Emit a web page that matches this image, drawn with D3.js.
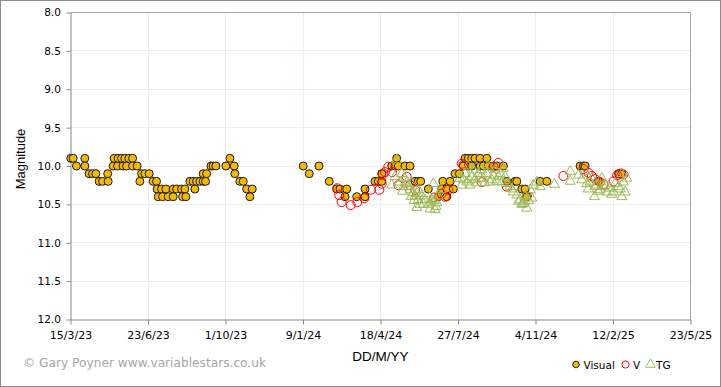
<!DOCTYPE html>
<html>
<head>
<meta charset="utf-8">
<script src="https://cdn.jsdelivr.net/npm/d3@7"></script>
<style>
  body { margin: 0; background: #fff; }
  svg { display: block; }
</style>
</head>
<body>
<svg width="721" height="387"></svg>
<script>
// observations: [JD - 2460000, magnitude]
var JD_BASE = 2460000;

var visualObs = [
  [18.9,9.9],[21.9,9.9],[26.2,10.0],[37.0,9.9],[37.0,10.0],[42.5,10.1],[46.9,10.1],[51.2,10.1],
  [55.4,10.2],[59.8,10.2],[66.5,10.1],[67.1,10.2],[73.5,10.0],[74.8,9.9],[79.2,10.0],[80.0,9.9],
  [84.4,9.9],[86.4,10.0],[88.6,9.9],[90.8,10.0],[93.8,9.9],[98.6,9.9],[98.6,10.0],[104.5,10.0],
  [108.0,10.2],[110.2,10.1],[114.4,10.1],[120.0,10.1],[125.2,10.2],[129.5,10.2],[130.3,10.3],
  [131.6,10.4],[136.0,10.3],[137.3,10.4],[141.5,10.3],[144.5,10.4],[151.0,10.3],[151.0,10.4],
  [155.4,10.3],[161.8,10.3],[163.1,10.4],[166.1,10.3],[167.4,10.4],[172.5,10.2],[176.8,10.2],
  [179.0,10.3],[181.2,10.2],[185.5,10.2],[189.7,10.2],[189.7,10.1],[192.8,10.2],[194.1,10.1],
  [199.7,10.0],[202.6,10.0],[206.1,10.0],[219.0,10.0],[224.2,9.9],[229.7,10.0],[230.6,10.1],
  [237.1,10.2],[241.4,10.2],[245.8,10.3],[250.0,10.4],[253.0,10.3],
  [318.8,10.0],[326.6,10.1],[339.1,10.0],[352.4,10.2],[362.0,10.3],[366.2,10.3],[372.7,10.4],
  [374.9,10.3],[387.8,10.4],[398.5,10.3],[398.5,10.4],[411.4,10.2],[415.7,10.2],[420.1,10.2],
  [420.1,10.1],[433.0,10.0],[437.2,10.0],[439.4,9.9],[441.5,10.0],[450.1,10.0],[456.6,10.0],
  [463.1,10.2],[467.3,10.2],[470.4,10.2],[480.2,10.3],[493.2,10.4],[497.5,10.3],[498.8,10.2],
  [504.0,10.3],[504.0,10.4],[508.3,10.2],[512.5,10.3],[514.7,10.1],[520.3,10.1],[525.4,10.0],
  [527.6,9.9],[531.9,9.9],[531.9,10.0],[536.3,9.9],[536.3,10.0],[540.5,9.9],[547.0,9.9],
  [547.0,10.0],[551.3,10.0],[555.7,9.9],[557.7,10.0],[564.2,10.0],[568.6,10.0],[577.1,10.0],
  [581.5,10.2],[592.2,10.2],[594.4,10.2],[600.8,10.3],[605.1,10.3],[607.4,10.4],[624.5,10.2],
  [633.1,10.2],[676.1,10.0],[680.4,10.0],[682.6,10.0],[699.7,10.2],[725.6,10.1],[730.0,10.1]
];

var vObs = [
  [362.7,10.29],[365.3,10.38],[368.4,10.47],[380.0,10.51],[388.6,10.47],[397.6,10.42],
  [406.2,10.31],[417.0,10.31],[420.1,10.23],[421.4,10.11],[424.3,10.08],[428.6,10.01],
  [433.4,10.08],[441.5,10.25],[452.3,10.14],[456.6,10.25],[463.1,10.31],[487.6,10.41],
  [497.5,10.36],[501.8,10.40],[506.1,10.31],[523.4,9.97],[525.4,9.99],[549.2,10.21],
  [564.2,10.01],[570.6,9.96],[581.5,10.27],[607.3,10.39],[654.5,10.13],[680.4,10.04],
  [686.8,10.09],[691.2,10.13],[695.5,10.17],[701.9,10.21],[706.2,10.24],[719.1,10.20],
  [723.9,10.12],[727.8,10.10],[732.0,10.11]
];

var tgObs = [
  [433.0,10.25],[437.2,10.14],[439.4,9.92],[443.7,10.21],[445.9,10.10],[448.0,10.27],
  [450.1,10.16],[454.4,10.27],[456.6,10.31],[458.8,10.23],[460.5,10.35],[463.1,10.39],
  [467.3,10.31],[467.3,10.44],[469.5,10.50],[471.7,10.39],[476.0,10.44],[465.3,10.54],
  [480.2,10.50],[482.4,10.56],[484.6,10.44],[486.7,10.23],[488.9,10.57],[491.1,10.48],
  [493.1,10.39],[496.6,10.31],[447.0,10.33],[452.0,10.22],[458.0,10.40],[462.0,10.45],
  [466.0,10.36],[474.0,10.50],[478.0,10.36],[483.5,10.48],[487.8,10.45],[490.0,10.53],
  [521.2,10.16],[523.4,10.25],[527.6,10.10],[529.8,10.21],[531.5,10.00],[534.1,10.25],
  [536.3,10.14],[538.3,10.05],[540.5,10.18],[544.8,10.10],[549.2,10.05],[551.3,10.16],
  [555.6,10.10],[557.3,10.00],[559.9,10.21],[564.2,10.12],[566.4,10.05],[570.6,10.14],
  [575.0,10.21],[576.7,10.03],[579.3,10.14],[581.5,10.23],[585.7,10.27],[590.0,10.34],
  [594.4,10.38],[598.6,10.44],[602.9,10.49],[607.3,10.55],[605.1,10.40],[611.6,10.31],
  [613.7,10.42],[615.8,10.25],[620.2,10.21],[624.5,10.27],[525.5,10.18],[533.0,10.18],
  [542.5,10.22],[547.0,10.16],[553.0,10.22],[562.0,10.18],[568.5,10.20],[573.0,10.10],
  [588.0,10.30],[596.5,10.46],[600.8,10.50],[604.0,10.47],[609.5,10.45],
  [642.9,10.24],[663.2,10.07],[663.2,10.20],[673.9,10.12],[678.3,10.18],[682.6,10.07],
  [684.8,10.23],[689.0,10.21],[691.2,10.16],[694.6,10.40],[695.5,10.27],[697.7,10.25],
  [701.9,10.31],[704.1,10.16],[706.2,10.27],[710.6,10.34],[714.8,10.29],[719.1,10.34],
  [721.3,10.23],[725.6,10.27],[730.0,10.40],[732.0,10.21],[734.2,10.34],[730.0,10.10],
  [736.4,10.16],[686.5,10.30],[699.8,10.33],[708.4,10.25],[716.9,10.37],[728.0,10.30]
];

var xTicks = ["2023-03-15","2023-06-23","2023-10-01","2024-01-09","2024-04-18",
              "2024-07-27","2024-11-04","2025-02-12","2025-05-23"];
var yTicks = [8.0, 8.5, 9.0, 9.5, 10.0, 10.5, 11.0, 11.5, 12.0];

function jdToDate(j) { return new Date((j + JD_BASE - 2440587.5) * 864e5); }
var parse = d3.utcParse("%Y-%m-%d");
var fmt = d3.utcFormat("%-d/%-m/%y");
var xDates = xTicks.map(parse);

var svg = d3.select("svg");
var plotL = 70.5, plotR = 690.5, plotT = 12.5, plotB = 319.5;

var x = d3.scaleUtc().domain([xDates[0], xDates[xDates.length - 1]]).range([plotL, plotR]);
var y = d3.scaleLinear().domain([8, 12]).range([plotT, plotB]);

svg.append("rect").attr("x", 0.5).attr("y", 0.5).attr("width", 720).attr("height", 386)
  .attr("fill", "#fff").attr("stroke", "#8c8c8c");

// grid
var grid = svg.append("g").attr("stroke", "#f9eaea").attr("stroke-width", 1);
grid.selectAll(".gx").data(xDates.slice(1, -1)).enter().append("line")
  .attr("x1", function(d) { return Math.round(x(d) - 0.5) + 0.5; })
  .attr("x2", function(d) { return Math.round(x(d) - 0.5) + 0.5; })
  .attr("y1", plotT).attr("y2", plotB);
grid.selectAll(".gy").data(yTicks.slice(1, -1)).enter().append("line")
  .attr("y1", function(d) { return Math.round(y(d) - 0.5) + 0.5; })
  .attr("y2", function(d) { return Math.round(y(d) - 0.5) + 0.5; })
  .attr("x1", plotL).attr("x2", plotR);

// frame
svg.append("line").attr("x1", plotL).attr("x2", plotR).attr("y1", plotT).attr("y2", plotT).attr("stroke", "#a6a6a6");
svg.append("line").attr("x1", plotR).attr("x2", plotR).attr("y1", plotT).attr("y2", plotB).attr("stroke", "#a6a6a6");

var xAxis = svg.append("g").attr("transform", "translate(0," + plotB + ")")
  .call(d3.axisBottom(x).tickValues(xDates).tickFormat(fmt).tickSize(5).tickSizeOuter(0));
var yAxis = svg.append("g").attr("transform", "translate(" + plotL + ",0)")
  .call(d3.axisLeft(y).tickValues(yTicks).tickFormat(d3.format(".1f")).tickSize(4).tickSizeOuter(0));

[xAxis, yAxis].forEach(function(a) {
  a.selectAll("path, line").attr("stroke", "#868686");
  a.selectAll("text").attr("fill", "#000").attr("font-family", "DejaVu Sans, Verdana, sans-serif");
});
xAxis.selectAll("text").attr("font-size", 11).attr("dy", "1.05em");
yAxis.selectAll("text").attr("font-size", 10.5).attr("dx", "-0.25em");

// axis titles
svg.append("text").attr("x", 380.5).attr("y", 361).attr("text-anchor", "middle")
  .attr("font-family", "Liberation Sans, Arial, sans-serif").attr("font-size", 13.5).text("DD/M/YY");
svg.append("text").attr("transform", "translate(25,159) rotate(-90)").attr("text-anchor", "middle")
  .attr("font-family", "Liberation Sans, Arial, sans-serif").attr("font-size", 13).text("Magnitude");

svg.append("text").attr("x", 23).attr("y", 367)
  .attr("font-family", "DejaVu Sans, sans-serif").attr("font-size", 12.2).attr("fill", "#a6a6a6")
  .text("\u00a9 Gary Poyner www.variablestars.co.uk");

// series
var tri = d3.symbol().type(d3.symbolTriangle).size(44);

svg.append("g").selectAll("circle").data(visualObs).enter().append("circle")
  .attr("cx", function(d) { return x(jdToDate(d[0])); })
  .attr("cy", function(d) { return y(d[1]); })
  .attr("r", 4).attr("fill", "#f7b800").attr("stroke", "#1a1a1a").attr("stroke-width", 1);

svg.append("g").selectAll("circle").data(vObs).enter().append("circle")
  .attr("cx", function(d) { return x(jdToDate(d[0])); })
  .attr("cy", function(d) { return y(d[1]); })
  .attr("r", 4.5).attr("fill", "none").attr("stroke", "#ff0000").attr("stroke-width", 1);

svg.append("g").selectAll("path").data(tgObs).enter().append("path")
  .attr("d", tri)
  .attr("transform", function(d) { return "translate(" + x(jdToDate(d[0])) + "," + y(d[1]) + ")"; })
  .attr("fill", "none").attr("stroke", "#9bbb59").attr("stroke-width", 1);

// legend
var lg = svg.append("g").attr("font-family", "DejaVu Sans, Verdana, sans-serif").attr("font-size", 10.5);
lg.append("circle").attr("cx", 576).attr("cy", 364.5).attr("r", 3.3)
  .attr("fill", "#f7b800").attr("stroke", "#1a1a1a");
lg.append("text").attr("x", 583.5).attr("y", 368.5).text("Visual");
lg.append("circle").attr("cx", 625.5).attr("cy", 364.5).attr("r", 3.6)
  .attr("fill", "none").attr("stroke", "#ff0000");
lg.append("text").attr("x", 633).attr("y", 368.5).text("V");
lg.append("path").attr("d", d3.symbol().type(d3.symbolTriangle).size(40))
  .attr("transform", "translate(650.5,364.5)").attr("fill", "none").attr("stroke", "#9bbb59");
lg.append("text").attr("x", 656).attr("y", 368.5).text("TG");
</script>
</body>
</html>
